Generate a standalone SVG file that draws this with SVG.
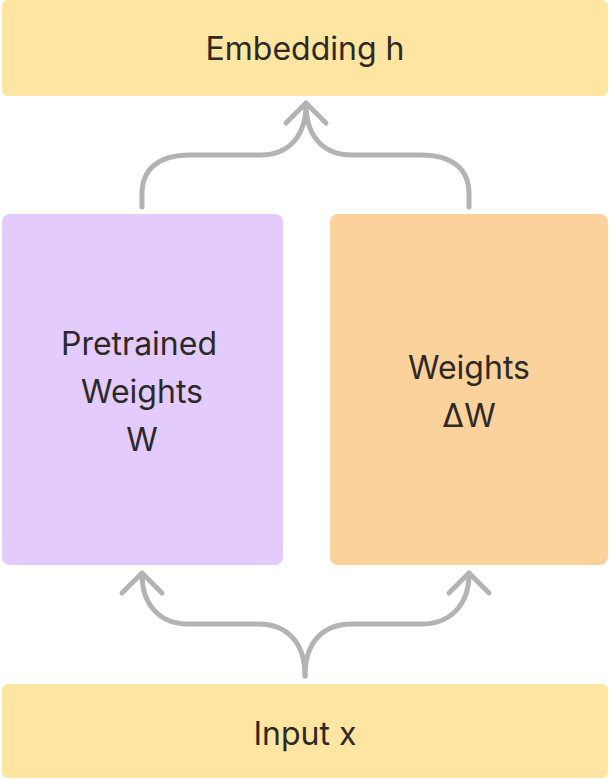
<svg xmlns="http://www.w3.org/2000/svg" width="610" height="780" viewBox="0 0 610 780">
<style>
.t{font-family:Inter,"Noto Sans",sans-serif;font-size:32px;font-weight:400;fill:#2d2926;text-anchor:middle;dominant-baseline:central}
.c{fill:none;stroke:#b3b3b3;stroke-width:5;stroke-linecap:round;stroke-linejoin:round}
</style>
<rect width="610" height="780" fill="#ffffff"/>
<g id="embedding">
<rect x="2" y="0" width="606" height="96" rx="6" fill="#fee5a1"/>
<text class="t" x="305" y="48">Embedding h</text>
</g>
<g id="pretrained">
<rect x="2" y="214" width="281" height="351" rx="8" fill="#e3ccfd"/>
<text class="t" x="139" y="343">Pretrained</text>
<text class="t" x="142" y="391">Weights</text>
<text class="t" x="142" y="439">W</text>
</g>
<g id="delta">
<rect x="330" y="214" width="278" height="351" rx="8" fill="#fbd19c"/>
<text class="t" x="469" y="367">Weights</text>
<text class="t" x="469" y="415">ΔW</text>
</g>
<g id="input">
<rect x="2" y="684" width="606" height="94" rx="6" fill="#fee5a1"/>
<text class="t" x="305" y="733">Input x</text>
</g>
<g id="connectors">
<path class="c" d="M142,207 V194 C142,168 160,155 190,155 H260 C290,155 306,135 306,104"/>
<path class="c" d="M469,207 V194 C469,168 451,155 421,155 H352 C322,155 306,135 306,104"/>
<path class="c" d="M286,123 L306,103 L326,123"/>
<path class="c" d="M305,676 C305,640 285,624 258,624 H188 C160,624 142,605 142,574"/>
<path class="c" d="M305,676 C305,640 325,624 352,624 H422 C450,624 469,605 469,574"/>
<path class="c" d="M122,593 L142,573 L162,593"/>
<path class="c" d="M449,593 L469,573 L489,593"/>
</g>
</svg>
